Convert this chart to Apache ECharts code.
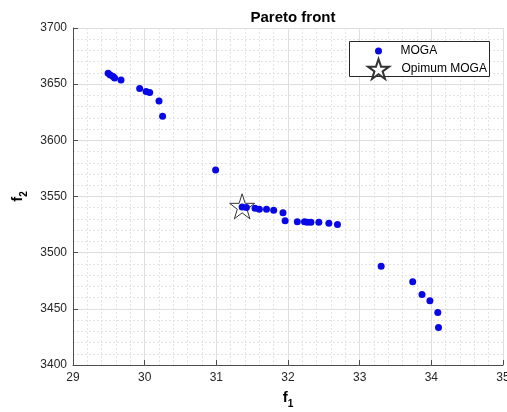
<!DOCTYPE html>
<html>
<head>
<meta charset="utf-8">
<script src="https://cdn.jsdelivr.net/npm/echarts@6/dist/echarts.min.js"></script>
<style>html,body{margin:0;padding:0;background:#fff}#c{width:507px;height:412px}</style>
</head>
<body>
<div id="c"></div>
<script>
// MOGA Pareto front points
const f1 = [29.49, 29.52, 29.56, 29.58, 29.67, 29.93, 30.02, 30.07, 30.20, 30.25,
            30.99, 31.36, 31.42, 31.54, 31.60, 31.70, 31.80, 31.93, 31.96, 32.13,
            32.23, 32.27, 32.32, 32.43, 32.57, 32.69, 33.30, 33.74, 33.87, 33.98,
            34.09, 34.10];
const f2 = [3659.7, 3658.2, 3656.8, 3655.6, 3653.8, 3646.2, 3643.5, 3642.6, 3635.0, 3621.5,
            3573.5, 3540.7, 3540.1, 3539.5, 3538.7, 3538.7, 3537.8, 3535.5, 3528.5, 3527.6,
            3527.6, 3527.0, 3527.0, 3527.0, 3526.2, 3525.0, 3488.0, 3474.2, 3462.8, 3457.2,
            3446.7, 3433.3];
// Optimum point
const optF1 = [31.36];
const optF2 = [3541.3];
const seriesNames = ['MOGA', 'Opimum MOGA'];
const xTicks = [29, 30, 31, 32, 33, 34, 35];
const yTicks = [3400, 3450, 3500, 3550, 3600, 3650, 3700];

const starPath = 'path://M50,2 L61.8,37.6 L99,37.6 L69,59.6 L80.4,95 L50,73 L19.6,95 L31,59.6 L1,37.6 L38.2,37.6 Z';
const font = "'Liberation Sans', Arial, Helvetica, sans-serif";
const axisCol = '#4d4d4d';

const chart = echarts.init(document.getElementById('c'), null, {renderer: 'canvas'});
const option = {
  backgroundColor: '#fff',
  animation: false,
  title: {
    text: 'Pareto front', left: 288, top: 5, textAlign: 'center',
    textStyle: {fontFamily: font, fontSize: 15, fontWeight: 'bold', color: '#000'}
  },
  grid: {left: 73, right: 4, top: 28, bottom: 47, containLabel: false, outerBoundsMode: 'none'},
  xAxis: {
    type: 'value', min: xTicks[0], max: xTicks[xTicks.length - 1], interval: 1,
    name: '{a|f}{b|1}', nameLocation: 'middle', nameGap: 22,
    nameTextStyle: {rich: {
      a: {fontFamily: font, fontSize: 15, fontWeight: 'bold', color: '#000', lineHeight: 22},
      b: {fontFamily: font, fontSize: 10, fontWeight: 'bold', color: '#000', lineHeight: 22, verticalAlign: 'bottom'}
    }},
    axisLine: {show: true, onZero: false, lineStyle: {color: axisCol, width: 1}},
    axisTick: {show: true, inside: true, length: 5, lineStyle: {color: axisCol}},
    axisLabel: {fontFamily: font, fontSize: 12, color: '#262626', margin: 7, formatter: v => String(v), hideOverlap: false},
    splitLine: {show: true, lineStyle: {color: '#dedede', width: 1}},
    minorTick: {show: false, splitNumber: 5},
    minorSplitLine: {show: true, lineStyle: {color: '#e3e3e3', type: [2, 2], width: 1}}
  },
  yAxis: {
    type: 'value', min: yTicks[0], max: yTicks[yTicks.length - 1], interval: 50,
    name: '{a|f}{b|2}', nameLocation: 'middle', nameGap: 44, nameRotate: 90,
    nameTextStyle: {rich: {
      a: {fontFamily: font, fontSize: 15, fontWeight: 'bold', color: '#000', lineHeight: 22},
      b: {fontFamily: font, fontSize: 10, fontWeight: 'bold', color: '#000', lineHeight: 22, verticalAlign: 'bottom'}
    }},
    axisLine: {show: true, onZero: false, lineStyle: {color: axisCol, width: 1}},
    axisTick: {show: true, inside: true, length: 5, lineStyle: {color: axisCol}},
    axisLabel: {fontFamily: font, fontSize: 12, color: '#262626', margin: 6, formatter: v => String(v)},
    splitLine: {show: true, lineStyle: {color: '#dedede', width: 1}},
    minorTick: {show: false, splitNumber: 5},
    minorSplitLine: {show: true, lineStyle: {color: '#e3e3e3', type: [2, 2], width: 1}}
  },
  graphic: [{
    type: 'rect', z: 3,
    shape: {x: 349.5, y: 41.5, width: 140, height: 35},
    style: {fill: '#fff', stroke: '#262626', lineWidth: 1}
  }],
  legend: [{
    data: [seriesNames[0]], orient: 'vertical', left: 375, top: 44, padding: 0,
    itemWidth: 30, itemHeight: 7, itemGap: 0,
    textStyle: {fontFamily: font, fontSize: 12, color: '#000', padding: [0, 0, 0, 2], lineHeight: 14},
    z: 5
  }, {
    data: [seriesNames[1]], orient: 'vertical', left: 367, top: 58, padding: 0,
    itemWidth: 30, itemHeight: 20, itemGap: 0,
    textStyle: {fontFamily: font, fontSize: 12, color: '#000', padding: [0, 0, 0, 3], lineHeight: 14},
    z: 5
  }],
  series: [{
    name: seriesNames[0], type: 'scatter', symbol: 'circle', symbolSize: 7,
    itemStyle: {color: '#0808e6', opacity: 1},
    data: f1.map((v, i) => [v, f2[i]]),
    z: 3
  }, {
    name: seriesNames[1], type: 'scatter', symbol: starPath, symbolSize: 25,
    itemStyle: {color: '#fff', borderColor: '#333', borderWidth: 1, opacity: 1},
    data: optF1.map((v, i) => [v, optF2[i]]),
    z: 2
  }]
};
chart.setOption(option);
</script>
</body>
</html>
